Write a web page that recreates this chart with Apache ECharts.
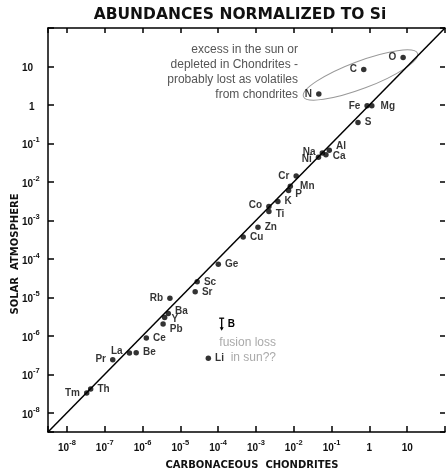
<!DOCTYPE html>
<html><head><meta charset="utf-8">
<script src="https://cdn.jsdelivr.net/npm/echarts@6/dist/echarts.min.js"></script>
<style>html,body{margin:0;padding:0;background:#fff}#c{width:448px;height:474px}</style>
</head><body><div id="c"></div>
<script>
// ---- data (abundances normalized to Si) ----
const elements   = ['O','C','N','Fe','Mg','S','Na','Al','Ni','Ca','Cr','Mn','P','K','Co','Ti','Zn','Cu','Ge','Sc','Sr','Rb','Ba','Y','Pb','Ce','La','Be','Pr','Tm','Th','Li'];
const chondrites = [7.8, 0.71, 0.046, 0.87, 1.16, 0.50, 0.057, 0.087, 0.045, 0.071, 0.0116, 0.0081, 0.0073, 0.0038, 0.0022, 0.0022, 0.00113, 0.00046, 1.01e-4, 2.79e-5, 2.47e-5, 5.3e-6, 4.8e-6, 3.85e-6, 3.5e-6, 1.26e-6, 4.5e-7, 6.8e-7, 1.63e-7, 3.34e-8, 4.25e-8, 5.5e-5];
const solar      = [17, 8.4, 1.93, 0.95, 0.95, 0.35, 0.056, 0.0665, 0.044, 0.051, 0.0143, 0.0077, 0.0060, 0.0031, 0.0023, 0.0017, 6.6e-4, 3.7e-4, 7.2e-5, 2.54e-5, 1.39e-5, 9.5e-6, 3.8e-6, 3.0e-6, 2.04e-6, 8.8e-7, 3.6e-7, 3.65e-7, 2.4e-7, 3.26e-8, 4.14e-8, 2.6e-7];
// boron: upper limit only
const limitElements   = ['B'];
const limitChondrites = [1.24e-4];
const limitSolarUpper = [2.87e-6];
const limitSolarArrow = [1.36e-6];
// axes (decade exponents: both axes are logarithmic)
const axisMinExp = -8.5;
const axisMaxExp = 2;
const labeledDecades = [-8,-7,-6,-5,-4,-3,-2,-1,0,1];
const titleText = 'ABUNDANCES NORMALIZED TO Si';
const xName = 'CARBONACEOUS  CHONDRITES';
const yName = 'SOLAR  ATMOSPHERE';
const noteVolatile = 'excess in the sun or\ndepleted in Chondrites -\nprobably lost as volatiles\nfrom chondrites';
const noteFusion = 'fusion loss\nin sun??';

// ---- label placement (styling) ----
const labelLayout = {
  O:['left',[0,0]], C:['left',[0,0]], N:['left',[0,0]], Fe:['left',[0,0]], Mg:['right',[2,0]], S:['right',[0,0]],
  Na:['left',[0,-1]], Al:['right',[0,-4]], Ni:['left',[0,2]], Ca:['right',[0,2]], Cr:['left',[0,0]],
  Mn:['right',[3,0]], P:['right',[0,4]], K:['right',[0,0]], Co:['left',[0,-1]], Ti:['right',[0,3]],
  Zn:['right',[0,0]], Cu:['right',[0,0]], Ge:['right',[0,0]], Sc:['right',[0,0]], Sr:['right',[0,0]],
  Rb:['left',[0,0]], Ba:['right',[0,-2]], Y:['right',[0,2]], Pb:['right',[0,5]], Ce:['right',[0,0]],
  La:['left',[0,-2]], Be:['right',[0,0]], Pr:['left',[0,0]], Tm:['left',[0,0]], Th:['right',[0,0]], Li:['right',[0,0]]
};
const FONT = '"Liberation Sans", Arial, sans-serif';
const INK = '#000';
const lg = Math.log10;

function decadeLabel(e, oneStyle){
  const r = Math.round(e);
  if (Math.abs(e - r) > 1e-6 || labeledDecades.indexOf(r) < 0) return '';
  if (r === 0) return '{' + oneStyle + '|1}';
  if (r === 1) return '{b|10}';
  return '{b|10}{s|' + r + '}';
}
const richBase = {
  b:{fontSize:10, fontWeight:'bold', fontFamily:FONT, color:'#111', lineHeight:14, verticalAlign:'bottom'},
  s:{fontSize:7.5, fontWeight:'bold', fontFamily:FONT, color:'#111', lineHeight:6, verticalAlign:'top'},
  one:{fontSize:10, fontWeight:'bold', fontFamily:FONT, color:'#111', lineHeight:14, verticalAlign:'bottom'},
  oneY:{fontSize:10, fontWeight:'bold', fontFamily:FONT, color:'#111', lineHeight:14, verticalAlign:'bottom', padding:[0,0,0,7]}
};
const lineSt = {color:'#000', width:1.5};
function logAxis(pos, extra){
  return Object.assign({type:'value', min:axisMinExp, max:axisMaxExp, splitNumber:10, position:pos,
    splitLine:{show:false}, minorTick:{show:false}}, extra);
}

const chart = echarts.init(document.getElementById('c'), null, {renderer:'canvas'});
const option = {
  animation:false,
  backgroundColor:'#fff',
  grid:{left:48, right:0, top:28, bottom:42},
  xAxis:[
    logAxis('bottom', {axisLine:{onZero:false, lineStyle:lineSt}, axisTick:{inside:true, length:6, lineStyle:lineSt},
     axisLabel:{margin:7, formatter:v=>decadeLabel(v,'one'), rich:richBase, hideOverlap:false}}),
    logAxis('top', {axisLine:{onZero:false, lineStyle:lineSt}, axisTick:{inside:true, length:5, lineStyle:lineSt}, axisLabel:{show:false}})
  ],
  yAxis:[
    logAxis('left', {axisLine:{onZero:false, lineStyle:lineSt}, axisTick:{inside:true, length:6, lineStyle:lineSt},
     axisLabel:{margin:26, align:'left', formatter:v=>decadeLabel(v,'oneY'), rich:richBase, hideOverlap:false}}),
    logAxis('right', {axisLine:{onZero:false, show:false}, axisTick:{inside:true, length:5, lineStyle:lineSt}, axisLabel:{show:false}})
  ],
  series:[
    {type:'line', xAxisIndex:0, yAxisIndex:0, silent:true, symbol:'none',
     data:[[axisMinExp, axisMinExp],[axisMaxExp, axisMaxExp]], lineStyle:{color:'#000', width:1.5}},
    {type:'scatter', xAxisIndex:0, yAxisIndex:0, symbolSize:5.5, itemStyle:{color:'#000'},
     data:elements.map((el,i)=>({name:el, value:[lg(chondrites[i]), lg(solar[i])],
       label:{position:labelLayout[el][0], offset:labelLayout[el][1]}})),
     label:{show:true, formatter:'{b}', distance:4, fontFamily:FONT, fontWeight:'bold', fontSize:10, color:INK}},
    {type:'custom', xAxisIndex:0, yAxisIndex:0,
     data:limitElements.map((el,i)=>({name:el, value:[lg(limitChondrites[i]), lg(limitSolarUpper[i]), lg(limitSolarArrow[i])]})),
     renderItem:function(params, api){
       const top = api.coord([api.value(0), api.value(1)]);
       const tip = api.coord([api.value(0), api.value(2)]);
       const x = top[0];
       return {type:'group', children:[
         {type:'line', shape:{x1:x-2.5, y1:top[1], x2:x+2.5, y2:top[1]}, style:{stroke:'#000', lineWidth:1.3}},
         {type:'line', shape:{x1:x, y1:top[1], x2:x, y2:tip[1]-2}, style:{stroke:'#000', lineWidth:1.3}},
         {type:'polygon', shape:{points:[[x-2,tip[1]-3.5],[x+2,tip[1]-3.5],[x,tip[1]]]}, style:{fill:'#000'}},
         {type:'text', style:{text:limitElements[params.dataIndex], x:x+6, y:(top[1]+tip[1])/2, align:'left', verticalAlign:'middle',
           font:'bold 10px ' + FONT, fill:INK}}
       ]};
     }}
  ],
  graphic:[
    {type:'text', x:240, y:15, style:{text:titleText, align:'center', verticalAlign:'middle',
      font:'bold 15.5px "DejaVu Sans", sans-serif', fill:'#111'}},
    {type:'text', x:252, y:465, style:{text:xName, align:'center', verticalAlign:'middle',
      font:'bold 10px "DejaVu Sans", sans-serif', fill:'#111'}},
    {type:'text', x:15, y:254, rotation:Math.PI/2, style:{text:yName, align:'center', verticalAlign:'middle',
      font:'bold 10px "DejaVu Sans", sans-serif', fill:'#111'}},
    {type:'text', x:298, y:42.5, style:{text:noteVolatile, align:'right', verticalAlign:'top', lineHeight:15,
      font:'12px "Liberation Sans", Arial, sans-serif', fill:'#555'}},
    {type:'text', x:276, y:335, style:{text:noteFusion, align:'right', verticalAlign:'top', lineHeight:15,
      font:'12px "Liberation Sans", Arial, sans-serif', fill:'#aaa'}},
    {type:'ellipse', x:360.5, y:75, rotation:20.7*Math.PI/180, shape:{cx:0, cy:0, rx:61, ry:13.7},
      style:{fill:'none', stroke:'#999', lineWidth:1}}
  ]
};
chart.setOption(option);
</script>
</body></html>
